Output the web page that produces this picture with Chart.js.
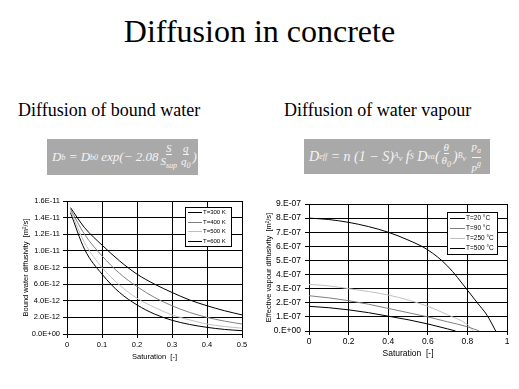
<!DOCTYPE html>
<html><head><meta charset="utf-8">
<script src="https://cdn.jsdelivr.net/npm/chart.js@4"></script>
<style>
html,body{margin:0;padding:0;background:#fff;}
body{width:519px;height:389px;position:relative;overflow:hidden;font-family:"Liberation Serif","Times New Roman",serif;}
#title{position:absolute;left:0;width:519px;top:11px;text-align:center;font-family:"Liberation Serif","Times New Roman",serif;font-size:32px;line-height:40px;color:#000;}
.sub{position:absolute;top:98px;font-family:"Liberation Serif","Times New Roman",serif;font-size:18px;line-height:24px;color:#000;white-space:nowrap;}
.formula{position:absolute;background:#a9a9a9;color:#f4f4f4;font-family:"Liberation Serif","Times New Roman",serif;font-style:italic;font-size:13px;white-space:nowrap;display:flex;align-items:center;padding-left:5px;box-sizing:border-box;overflow:hidden;}
.formula sub,.formula sup{font-size:8px;}
.fr{display:inline-flex;flex-direction:column;align-items:center;vertical-align:middle;font-size:11px;line-height:12px;margin:0 2px;}
.fr span:first-child{border-bottom:1px solid #f4f4f4;}
.wrap{position:absolute;}
</style></head>
<body>
<div id="title">Diffusion in concrete</div>
<div class="sub" style="left:18px;">Diffusion of bound water</div>
<div class="sub" style="left:284px;">Diffusion of water vapour</div>
<div class="formula" style="left:47px;top:139px;width:151px;height:36px;">D<sub>b</sub>&nbsp;=&nbsp;D<sub>b0</sub>&nbsp;exp(−&nbsp;2.08<span class="fr"><span>S</span><span>S<sub>sup</sub></span></span><span class="fr"><span>q</span><span>q<sub>0</sub></span></span>)</div>
<div class="formula" style="left:304px;top:139px;width:186px;height:35px;font-size:14px;">D<sub>eff</sub>&nbsp;=&nbsp;n&nbsp;(1&nbsp;−&nbsp;S)<sup>A<sub>v</sub></sup>&nbsp;f<sub>S</sub>&nbsp;D<sub>va</sub>(<span class="fr"><span>θ</span><span>θ<sub>0</sub></span></span>)<sup>B<sub>v</sub></sup>&nbsp;<span class="fr"><span>p<sub>a</sub></span><span>p<sup>g</sup></span></span></div>
<div class="wrap" style="left:0;top:190px;width:258px;height:180px;"><canvas id="c1" width="258" height="180"></canvas></div>
<div class="wrap" style="left:262px;top:190px;width:257px;height:180px;"><canvas id="c2" width="257" height="180"></canvas></div>
<script>
// ---- Left chart data: bound water diffusivity [m2/s] vs saturation ----
const satBound = [0.01, 0.05, 0.1, 0.15, 0.2, 0.25, 0.3, 0.35, 0.4, 0.45, 0.5];
const bound300K = [1.52e-11, 1.28e-11, 1.07e-11, 0.88e-11, 0.72e-11, 0.60e-11, 0.50e-11, 0.41e-11, 0.34e-11, 0.28e-11, 0.23e-11];
const bound400K = [1.50e-11, 1.20e-11, 0.94e-11, 0.73e-11, 0.57e-11, 0.44e-11, 0.34e-11, 0.26e-11, 0.20e-11, 0.155e-11, 0.12e-11];
const bound500K = [1.48e-11, 1.10e-11, 0.80e-11, 0.59e-11, 0.43e-11, 0.32e-11, 0.23e-11, 0.17e-11, 0.12e-11, 0.09e-11, 0.07e-11];
const bound600K = [1.46e-11, 1.02e-11, 0.72e-11, 0.50e-11, 0.35e-11, 0.24e-11, 0.165e-11, 0.115e-11, 0.08e-11, 0.055e-11, 0.04e-11];
const boundLabels = ["T=300 K", "T=400 K", "T=500 K", "T=600 K"];

// ---- Right chart data: effective vapour diffusivity [m2/s] vs saturation ----
const sat20 = [0, 0.1, 0.2, 0.3, 0.4, 0.5, 0.6, 0.7, 0.8, 0.85, 0.9, 0.943];
const vap20 = [8.0e-7, 7.9e-7, 7.7e-7, 7.4e-7, 7.0e-7, 6.45e-7, 5.75e-7, 4.6e-7, 2.9e-7, 2.0e-7, 1.1e-7, 0];
const sat90 = [0, 0.1, 0.2, 0.3, 0.4, 0.5, 0.6, 0.7, 0.8, 0.86];
const vap90 = [2.5e-7, 2.35e-7, 2.15e-7, 1.9e-7, 1.6e-7, 1.3e-7, 1.0e-7, 0.65e-7, 0.3e-7, 0];
const sat250 = [0, 0.1, 0.2, 0.3, 0.4, 0.5, 0.6, 0.7, 0.8, 0.83];
const vap250 = [3.3e-7, 3.2e-7, 3.0e-7, 2.8e-7, 2.55e-7, 2.2e-7, 1.75e-7, 1.15e-7, 0.45e-7, 0];
const sat500 = [0, 0.1, 0.2, 0.3, 0.4, 0.5, 0.6, 0.7, 0.74];
const vap500 = [1.75e-7, 1.65e-7, 1.5e-7, 1.3e-7, 1.05e-7, 0.8e-7, 0.5e-7, 0.15e-7, 0];
const vapLabels = ["T=20 °C", "T=90 °C", "T=250 °C", "T=500 °C"];

const lineColors = ["#000000", "#808080", "#c0c0c0", "#000000"];
const SANS = '"Liberation Sans", Arial, sans-serif';

function pts(xs, ys){ return xs.map((x,i)=>({x:x, y:ys[i]})); }

function fmtExp(v, decimals){
  if (Math.abs(v) < 1e-20) return (decimals ? "0." + "0".repeat(decimals) : "0.") + "E+00";
  let e = Math.floor(Math.log10(Math.abs(v)) + 1e-9);
  let m = v / Math.pow(10, e);
  m = Math.round(m * Math.pow(10, decimals)) / Math.pow(10, decimals);
  if (m >= 10) { m /= 10; e += 1; }
  const ms = decimals ? m.toFixed(decimals) : (m.toFixed(0) + ".");
  const es = (e < 0 ? "-" : "+") + String(Math.abs(e)).padStart(2, "0");
  return ms + "E" + es;
}

// legend drawn inside plot area (canvas coordinates)
const boxLegend = {
  id: 'boxLegend',
  afterDraw(chart, args, o) {
    const ctx = chart.ctx;
    const ds = chart.data.datasets;
    ctx.save();
    ctx.fillStyle = '#fff';
    ctx.fillRect(o.x, o.y, o.w, o.h);
    ctx.strokeStyle = '#000';
    ctx.lineWidth = 1;
    ctx.strokeRect(o.x + 0.5, o.y + 0.5, o.w, o.h);
    ctx.font = o.font + 'px ' + SANS;
    ctx.textBaseline = 'middle';
    ds.forEach((d, i) => {
      const yy = Math.round(o.y + o.first + i * o.step) + 0.5;
      ctx.strokeStyle = d.borderColor;
      ctx.beginPath();
      ctx.moveTo(o.x + 3, yy);
      ctx.lineTo(o.x + 3 + o.lineLen, yy);
      ctx.stroke();
      ctx.fillStyle = '#000';
      ctx.fillText(d.label, o.x + 4 + o.lineLen, yy);
    });
    ctx.restore();
  }
};

function makeChart(id, datasets, cfg) {
  return new Chart(document.getElementById(id), {
    type: 'line',
    data: { datasets: datasets },
    plugins: [boxLegend],
    options: {
      responsive: false,
      animation: false,
      layout: { padding: { top: cfg.padTop, right: cfg.padRight, left: 0, bottom: 0 } },
      elements: { point: { radius: 0 }, line: { borderWidth: 1, cubicInterpolationMode: 'monotone' } },
      plugins: {
        legend: { display: false },
        tooltip: { enabled: false },
        boxLegend: cfg.legend
      },
      scales: {
        x: {
          type: 'linear', min: cfg.xMin, max: cfg.xMax,
          afterBuildTicks: (s) => { s.ticks = cfg.xTicks.map(v => ({value: v})); },
          afterFit: (s) => { s.height = cfg.xAxisH; },
          border: { color: '#000', width: 1 },
          grid: { color: '#000', lineWidth: 1, tickLength: 4, drawTicks: true },
          ticks: { color: '#000', font: { family: SANS, size: cfg.tickSize }, padding: 2, maxRotation: 0,
                   callback: (v) => String(Math.round(v * 10) / 10) },
          title: { display: true, text: 'Saturation  [-]', color: '#000', font: { family: SANS, size: cfg.xTitleSize }, padding: { top: 0, bottom: cfg.xTitlePad } }
        },
        y: {
          type: 'linear', min: cfg.yMin, max: cfg.yMax,
          afterBuildTicks: (s) => { s.ticks = cfg.yTicks.map(v => ({value: v})); },
          afterFit: (s) => { s.width = cfg.yAxisW; },
          border: { color: '#000', width: 1 },
          grid: { color: '#000', lineWidth: 1, tickLength: 4, drawTicks: true },
          ticks: { color: '#000', font: { family: SANS, size: cfg.tickSize }, padding: cfg.yTickPad,
                   callback: (v) => fmtExp(v, cfg.decimals) },
          title: { display: true, text: cfg.yTitle, color: '#000', font: { family: SANS, size: cfg.yTitleSize }, padding: { top: cfg.yTitlePad, bottom: 0 } }
        }
      }
    }
  });
}

const boundTicksY = [0, 2e-12, 4e-12, 6e-12, 8e-12, 1e-11, 1.2e-11, 1.4e-11, 1.6e-11];
const boundTicksX = [0, 0.1, 0.2, 0.3, 0.4, 0.5];
const vapTicksY = [0, 1e-7, 2e-7, 3e-7, 4e-7, 5e-7, 6e-7, 7e-7, 8e-7, 9e-7];
const vapTicksX = [0, 0.2, 0.4, 0.6, 0.8, 1];

const boundSeries = [bound300K, bound400K, bound500K, bound600K];
makeChart('c1', boundSeries.map((ys, i) => ({
  label: boundLabels[i], data: pts(satBound, ys), borderColor: lineColors[i], fill: false
})), {
  padTop: 11, padRight: 16, xAxisH: 36, yAxisW: 67,
  xMin: 0, xMax: 0.5, yMin: 0, yMax: 1.6e-11,
  xTicks: boundTicksX, yTicks: boundTicksY, decimals: 1,
  tickSize: 7.5, yTickPad: 3, xTitleSize: 7.5, xTitlePad: 9,
  yTitle: 'Bound water diffusivity  [m²/s]', yTitleSize: 7.5, yTitlePad: 21,
  legend: { x: 185, y: 17, w: 46, h: 39, first: 5, step: 9.5, lineLen: 14, font: 6 }
});

const vapX = [sat20, sat90, sat250, sat500];
const vapY = [vap20, vap90, vap250, vap500];
makeChart('c2', vapY.map((ys, i) => ({
  label: vapLabels[i], data: pts(vapX[i], ys), borderColor: lineColors[i], fill: false
})), {
  padTop: 14, padRight: 12, xAxisH: 39, yAxisW: 47,
  xMin: 0, xMax: 1, yMin: 0, yMax: 9e-7,
  xTicks: vapTicksX, yTicks: vapTicksY, decimals: 0,
  tickSize: 8.5, yTickPad: 4, xTitleSize: 8.5, xTitlePad: 11,
  yTitle: 'Effective vapour diffusivity  [m²/s]', yTitleSize: 7.5, yTitlePad: 2,
  legend: { x: 185, y: 22, w: 50, h: 42, first: 6, step: 10, lineLen: 15, font: 6.5 }
});
</script>
</body></html>
